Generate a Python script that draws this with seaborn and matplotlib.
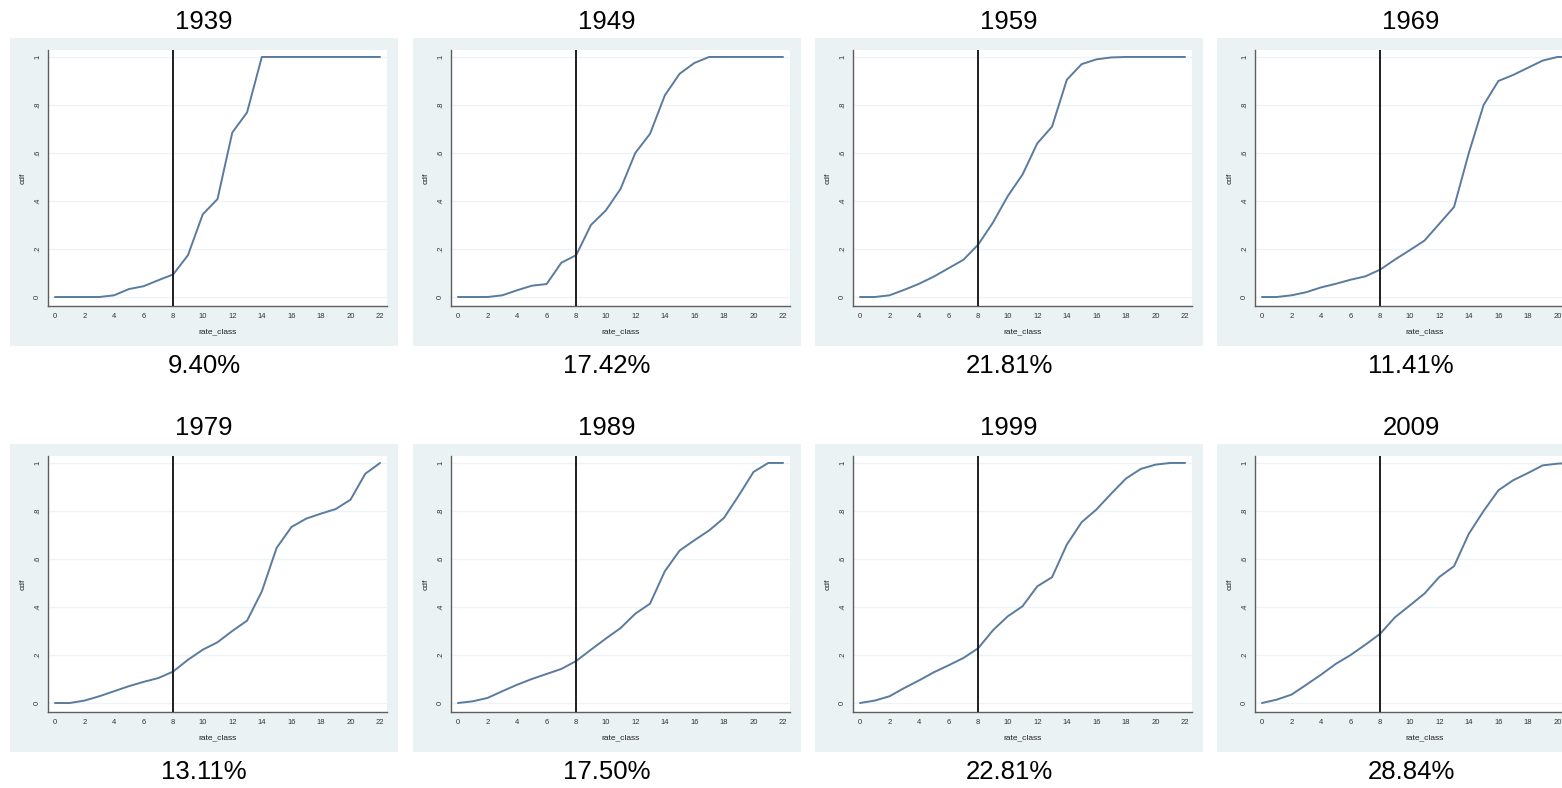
import pandas as pd
import numpy as np
import seaborn as sns
import matplotlib.pyplot as plt
from matplotlib.patches import Rectangle


# -----------------------------
# DATA
# -----------------------------
rate_class = list(range(23))

years = ["1939", "1949", "1959", "1969", "1979", "1989", "1999", "2009"]
share_below_8 = ["9.40%", "17.42%", "21.81%", "11.41%",
                 "13.11%", "17.50%", "22.81%", "28.84%"]

cdf_1939 = [0, 0, 0, 0, 0.007, 0.033, 0.045, 0.07, 0.094, 0.174, 0.344, 0.408,
            0.685, 0.769, 1, 1, 1, 1, 1, 1, 1, 1, 1]
cdf_1949 = [0, 0, 0, 0.007, 0.028, 0.047, 0.054, 0.143, 0.1742, 0.30, 0.36, 0.45,
            0.60, 0.68, 0.84, 0.93, 0.975, 1, 1, 1, 1, 1, 1]
cdf_1959 = [0, 0, 0.007, 0.03, 0.055, 0.085, 0.12, 0.155, 0.2181, 0.31, 0.42, 0.51,
            0.64, 0.71, 0.905, 0.97, 0.99, 0.998, 1, 1, 1, 1, 1]
cdf_1969 = [0, 0, 0.007, 0.02, 0.04, 0.055, 0.072, 0.086, 0.1141, 0.156, 0.195, 0.235,
            0.305, 0.375, 0.60, 0.80, 0.90, 0.925, 0.955, 0.985, 1, 1, 1]
cdf_1979 = [0, 0, 0.01, 0.028, 0.049, 0.07, 0.088, 0.104, 0.1311, 0.18, 0.222, 0.253,
            0.30, 0.343, 0.465, 0.646, 0.733, 0.768, 0.789, 0.808, 0.847, 0.955, 1]
cdf_1989 = [0, 0.007, 0.021, 0.049, 0.076, 0.10, 0.121, 0.142, 0.175, 0.222, 0.268, 0.312,
            0.372, 0.414, 0.549, 0.635, 0.678, 0.719, 0.771, 0.864, 0.9625, 1, 1]
cdf_1999 = [0, 0.01, 0.028, 0.0625, 0.094, 0.128, 0.157, 0.1875, 0.2281, 0.303, 0.361, 0.403,
            0.486, 0.524, 0.66, 0.753, 0.806, 0.872, 0.935, 0.975, 0.993, 1, 1]
cdf_2009 = [0, 0.014, 0.035, 0.076, 0.118, 0.163, 0.20, 0.243, 0.2884, 0.357, 0.406, 0.456,
            0.525, 0.57, 0.705, 0.80, 0.886, 0.928, 0.958, 0.99, 0.997, 1, 1]

cdf_by_year = [cdf_1939, cdf_1949, cdf_1959, cdf_1969,
               cdf_1979, cdf_1989, cdf_1999, cdf_2009]

threshold = 8

df = pd.concat([
    pd.DataFrame({"year": y, "rate_class": rate_class, "cdf": c})
    for y, c in zip(years, cdf_by_year)
], ignore_index=True)


# -----------------------------
# STYLE
# -----------------------------
sns.set_style("white")
plt.rcParams["font.family"] = ["Liberation Sans", "DejaVu Sans"]
plt.rcParams["text.color"] = "black"
plt.rcParams["axes.labelcolor"] = "#222222"
plt.rcParams["xtick.color"] = "#333333"
plt.rcParams["ytick.color"] = "#333333"

W, H = 1562, 788
fig = plt.figure(figsize=(W / 100, H / 100), dpi=100)
fig.patch.set_facecolor("white")

box_bg = "#eaf2f3"
line_color = "#5a7b9e"
axis_color = "#5e5e5e"

col_left = [10, 413, 815, 1217]
row_top = [38, 444]
box_w, box_h = 388, 308


def px_rect(left, top, width, height):
    # pixel box (from top-left) -> figure fraction
    return [left / W, 1 - (top + height) / H, width / W, height / H]


# -----------------------------
# PANELS
# -----------------------------
for i, year in enumerate(years):
    r, c = divmod(i, 4)
    bl, bt = col_left[c], row_top[r]

    fig.add_artist(Rectangle((bl / W, 1 - (bt + box_h) / H), box_w / W, box_h / H,
                             transform=fig.transFigure, facecolor=box_bg,
                             edgecolor="none", zorder=0))

    ax = fig.add_axes(px_rect(bl + 38, bt + 12, 339, 256))
    ax.set_facecolor("white")

    sns.lineplot(data=df[df["year"] == year], x="rate_class", y="cdf",
                 ax=ax, color=line_color, linewidth=1.4)
    ax.axvline(threshold, color="#1e1e1e", linewidth=1.4, zorder=3)

    ax.set_xlim(-0.47, 22.47)
    ax.set_ylim(-0.0375, 1.029)
    ax.set_xticks(range(0, 23, 2))
    ax.set_yticks([0, 0.2, 0.4, 0.6, 0.8, 1])
    ax.set_yticklabels(["0", ".2", ".4", ".6", ".8", "1"], rotation=90, va="center")
    ax.tick_params(axis="both", labelsize=5.5, length=3, width=0.8,
                   color=axis_color, pad=2)
    ax.yaxis.grid(True, color="#eef4f5", linewidth=1)
    ax.set_axisbelow(True)

    for s in ["top", "right"]:
        ax.spines[s].set_visible(False)
    for s in ["left", "bottom"]:
        ax.spines[s].set_color(axis_color)
        ax.spines[s].set_linewidth(1.0)

    ax.set_xlabel("rate_class", fontsize=6, labelpad=6)
    ax.set_ylabel("cdf", fontsize=6, labelpad=5)

    cx = (bl + box_w / 2) / W
    fig.text(cx, 1 - (bt - 16) / H, year, ha="center", va="center", fontsize=18.5)
    fig.text(cx, 1 - (bt + box_h + 20) / H, share_below_8[i],
             ha="center", va="center", fontsize=18.5)

fig.savefig("out.png", dpi=100)
